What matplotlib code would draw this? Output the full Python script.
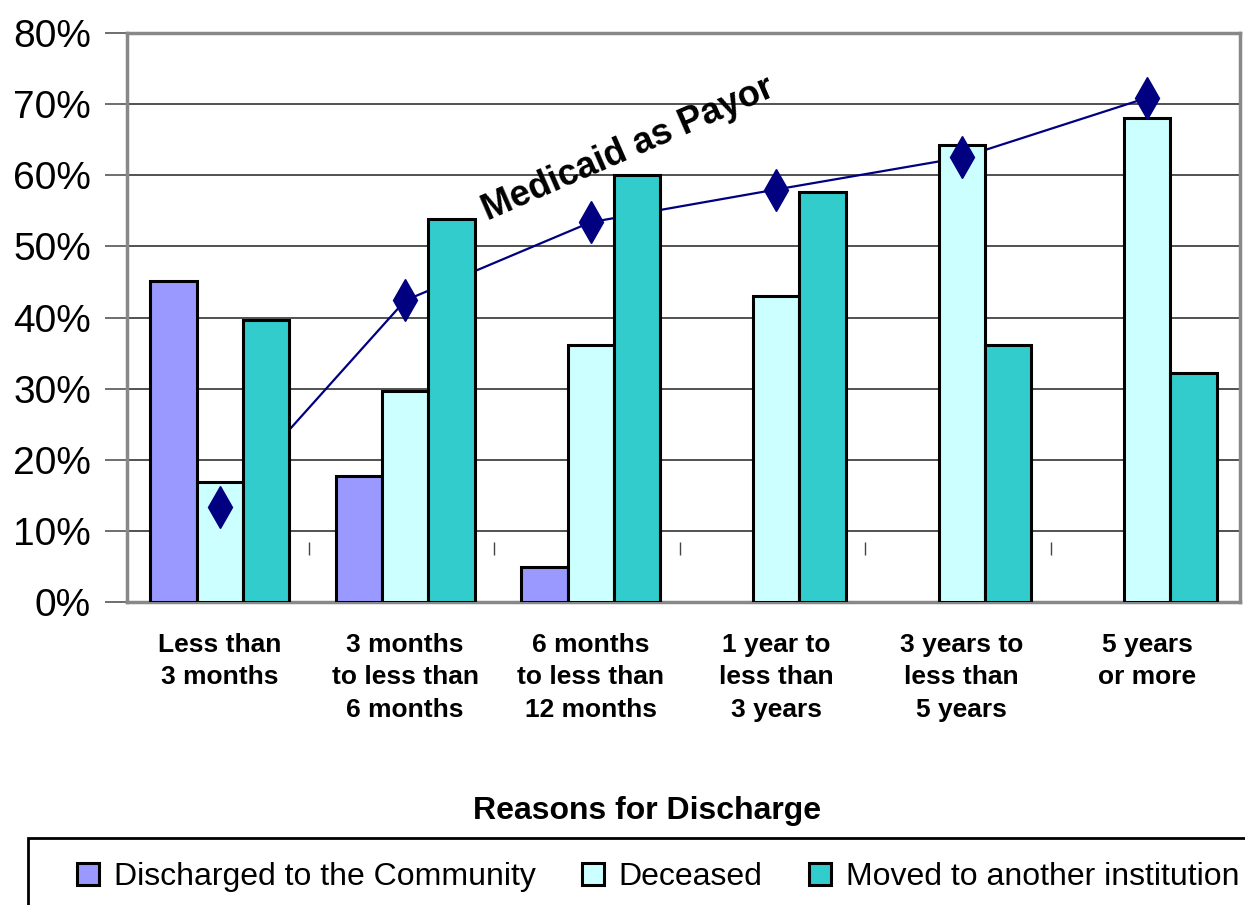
import numpy as np
import matplotlib
matplotlib.use('Agg')
import matplotlib.pyplot as plt
from matplotlib.patches import Rectangle

plt.rcParams['font.family'] = ['Liberation Sans', 'DejaVu Sans']

# data (percent)
categories = ['Less than\n3 months', '3 months\nto less than\n6 months',
              '6 months\nto less than\n12 months', '1 year to\nless than\n3 years',
              '3 years to\nless than\n5 years', '5 years\nor more']
discharged = [45.1, 17.7, 4.9, 0, 0, 0]
deceased = [16.9, 29.6, 36.1, 43.0, 64.2, 68.1]
moved = [39.7, 53.8, 60.0, 57.7, 36.1, 32.2]
medicaid = [13.3, 42.4, 53.4, 58.0, 62.5, 70.9]

series_names = ['Discharged to the Community', 'Deceased', 'Moved to another institution']
colors = ['#9999FF', '#CCFFFF', '#33CCCC']

fig = plt.figure(figsize=(12.45, 9.05), dpi=100)
ax = fig.add_axes([0.102, 0.3348, 0.894, 0.6287])

x = np.arange(len(categories))
w = 0.25
handles = []
for i, (vals, c, name) in enumerate(zip([discharged, deceased, moved], colors, series_names)):
    v = np.array(vals, dtype=float)
    v = np.where(v > 0, v, np.nan)  # zero bars are not drawn
    b = ax.bar(x + (i - 1) * w, v, width=w, color=c, edgecolor='black',
               linewidth=2.2, zorder=3, label=name)
    handles.append(b)

# medicaid line goes behind the bars, markers on top
ax.plot(x, medicaid, color='#000080', linewidth=1.6, zorder=2)
ax.plot(x, medicaid, linestyle='none', marker='d', markersize=21,
        color='#000080', zorder=4)

ax.text(2.2, 63.7, 'Medicaid as Payor', rotation=23.5, rotation_mode='anchor',
        ha='center', va='center', fontsize=26, fontweight='bold', zorder=5)

# little stray tick marks between groups
ax.vlines(x[:-1] + 0.48, 6.6, 8.4, color='#444444', linewidth=1, zorder=1)

ax.set_xlim(-0.5, 5.5)
ax.set_ylim(0, 80)
ax.set_yticks(np.arange(0, 81, 10))
ax.set_yticklabels([f'{t}%' for t in range(0, 81, 10)], fontsize=28)
ax.set_xticks(x)
ax.set_xticklabels(categories, fontsize=19, fontweight='bold', linespacing=1.45)
ax.tick_params(axis='x', length=0, pad=22)
ax.tick_params(axis='y', length=16, width=1.2, color='#555555', pad=10)

ax.grid(axis='y', color='#222222', linewidth=1.1, zorder=0)
ax.set_axisbelow(True)
for s in ax.spines.values():
    s.set_color('#888888')
    s.set_linewidth(2.5)

ax.set_xlabel('Reasons for Discharge', fontsize=23, fontweight='bold', va='center')
ax.xaxis.set_label_coords(0.467, -0.368)

fig.legend(handles=handles, labels=series_names, loc='center left',
           bbox_to_anchor=(0.0618, 0.031), ncol=3, frameon=False, fontsize=23,
           handlelength=0.7, handleheight=0.7, handletextpad=0.45,
           columnspacing=1.45, borderpad=0, borderaxespad=0)
fig.patches.append(Rectangle((0.0225, -0.1), 1.1, 0.174, transform=fig.transFigure,
                             fill=False, edgecolor='black', linewidth=2, clip_on=False))

fig.savefig('out.png', dpi=100)
